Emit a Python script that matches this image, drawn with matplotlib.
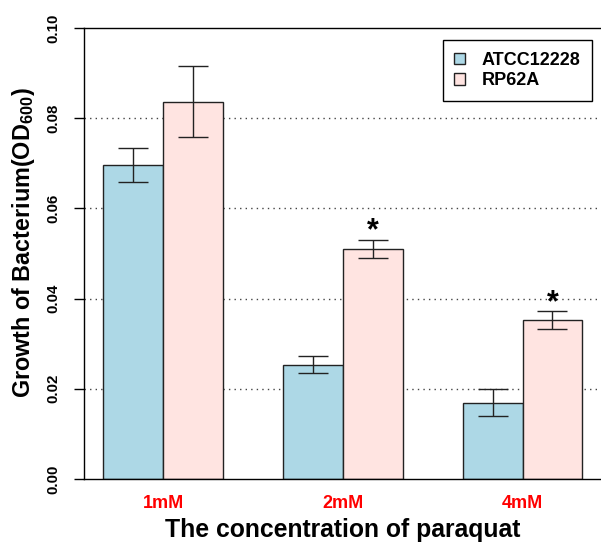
import numpy as np
import matplotlib.pyplot as plt

# data
concentrations = ['1mM', '2mM', '4mM']
atcc = [0.0697, 0.0253, 0.0169]
atcc_err = [0.0038, 0.0019, 0.0030]
rp62a = [0.0837, 0.0510, 0.0353]
rp62a_err = [0.0078, 0.0021, 0.0020]
signif = ['', '*', '*']
yticks = [0.00, 0.02, 0.04, 0.06, 0.08, 0.10]

plt.rcParams['font.family'] = ['Liberation Sans', 'DejaVu Sans']
plt.rcParams['font.weight'] = 'bold'

fig = plt.figure(figsize=(6.01, 5.44), dpi=100)
ax = fig.add_axes([84 / 601, 65 / 544, 517.6 / 601, 451 / 544])

# R barplot style layout: width 1, space 1 between groups
n = len(concentrations)
left_blue = np.arange(n) * 3 + 1
left_pink = left_blue + 1

for y in yticks[1:-1]:
    ax.axhline(y, color='#444444', lw=1, linestyle=(0, (1, 3)), zorder=0)

ax.bar(left_blue, atcc, width=1, align='edge', color='#ADD8E6',
       edgecolor='#222222', lw=1, label='ATCC12228', zorder=2)
ax.bar(left_pink, rp62a, width=1, align='edge', color='#FFE4E1',
       edgecolor='#222222', lw=1, label='RP62A', zorder=2)

ax.errorbar(left_blue + 0.5, atcc, yerr=atcc_err, fmt='none', ecolor='#222222',
            elinewidth=1, capsize=10.8, capthick=1, zorder=3)
ax.errorbar(left_pink + 0.5, rp62a, yerr=rp62a_err, fmt='none', ecolor='#222222',
            elinewidth=1, capsize=10.8, capthick=1, zorder=3)

for i, s in enumerate(signif):
    if s:
        ax.text(left_pink[i] + 0.5, rp62a[i] + rp62a_err[i], s, ha='center',
                va='baseline', fontsize=22, fontweight='bold')

ax.set_xlim(0.68, 9.32)
ax.set_ylim(0, 0.1)
ax.set_yticks(yticks)
ax.set_yticklabels(['%.2f' % v for v in yticks], rotation=90, va='center',
                   fontsize=10.8, fontweight='bold')
ax.tick_params(axis='y', direction='out', length=7.2, width=1, pad=10)
ax.set_xticks(left_pink)
ax.set_xticklabels(concentrations, color='red', fontsize=13, fontweight='bold')
ax.tick_params(axis='x', length=0, pad=11.5)

ax.spines['right'].set_visible(False)
for sp in ['left', 'bottom', 'top']:
    ax.spines[sp].set_linewidth(1)

fig.text(24 / 601, 1 - 242.5 / 544, 'Growth of Bacterium(OD$_{\\mathregular{600}}$)',
         rotation=90, ha='center', va='center', fontsize=16.8, fontweight='bold')
fig.text(343 / 601, 7 / 544, 'The concentration of paraquat', ha='center',
         va='baseline', fontsize=17.8, fontweight='bold')

leg = ax.legend(loc='upper right', fontsize=13, frameon=True,
                fancybox=False, framealpha=1, edgecolor='black',
                handlelength=0.6, handleheight=0.6, handletextpad=0.9,
                borderpad=0.65, labelspacing=0.2, borderaxespad=0)
leg.get_frame().set_linewidth(1)
leg.set_bbox_to_anchor(((592 - 84) / 517.6, 1 - 12 / 451), transform=ax.transAxes)

fig.savefig('out.png', dpi=100)
